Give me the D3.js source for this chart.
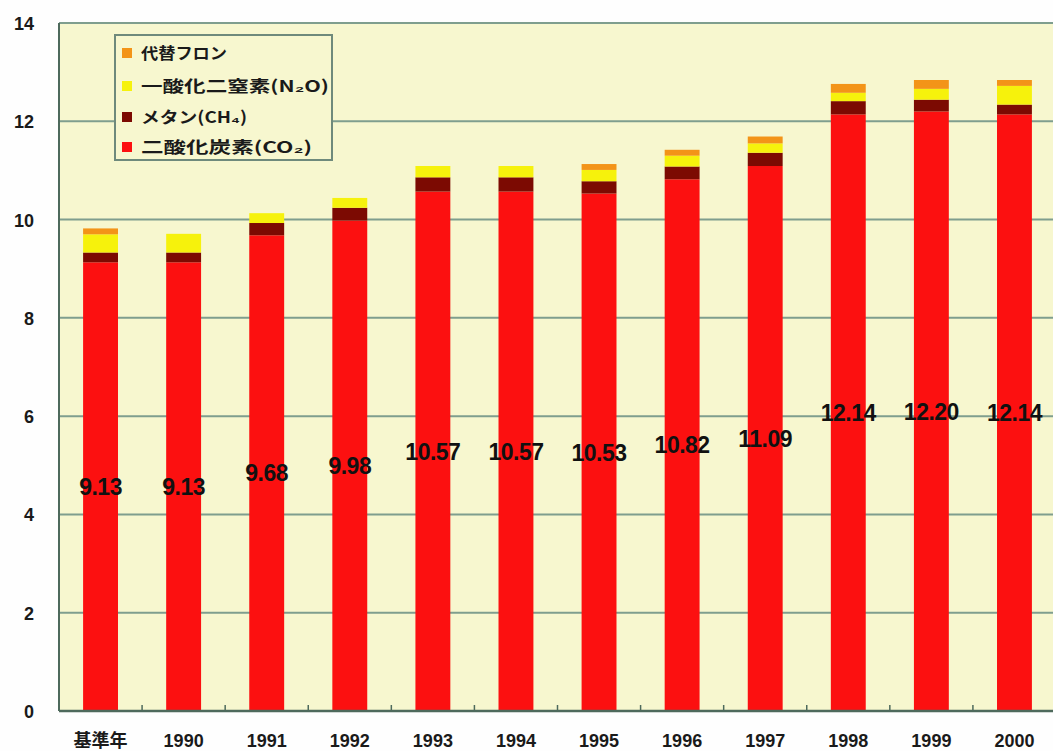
<!DOCTYPE html>
<html>
<head>
<meta charset="utf-8">
<script src="https://cdn.jsdelivr.net/npm/d3@7"></script>
<style>
  html, body { margin: 0; padding: 0; background: #fefefe; }
  svg { display: block; }
</style>
</head>
<body>
<svg id="chart" width="1053" height="751"></svg>
<script>
const categories = ["基準年", "1990", "1991", "1992", "1993", "1994", "1995", "1996", "1997", "1998", "1999", "2000"];
const co2 = [9.13, 9.13, 9.68, 9.98, 10.57, 10.57, 10.53, 10.82, 11.09, 12.14, 12.20, 12.14];
const ch4 = [0.20, 0.20, 0.25, 0.26, 0.29, 0.29, 0.25, 0.26, 0.27, 0.27, 0.24, 0.20];
const n2o = [0.37, 0.38, 0.20, 0.20, 0.23, 0.23, 0.23, 0.22, 0.19, 0.17, 0.22, 0.38];
const hfc = [0.12, 0.00, 0.00, 0.00, 0.00, 0.00, 0.12, 0.12, 0.14, 0.18, 0.18, 0.12];
const seriesNames = ["二酸化炭素", "メタン", "一酸化二窒素", "代替フロン"];
const legendLabels = ["代替フロン", "一酸化二窒素(N₂O)", "メタン(CH₄)", "二酸化炭素(CO₂)"];
const yTicks = [0, 2, 4, 6, 8, 10, 12, 14];

const colors = {"二酸化炭素": "#fc1010", "メタン": "#7c0a02", "一酸化二窒素": "#f6f20c", "代替フロン": "#f39418"};
const legendColors = ["#f39418", "#f6f20c", "#7c0a02", "#fc1010"];

(function () {
const svg = d3.select("#chart");
const mLeft = 59, mRight = 1056, mTop = 23, mBottom = 711;

const x = d3.scaleBand().domain(categories).range([mLeft, mRight]).paddingInner(0.58).paddingOuter(0.29);
const y = d3.scaleLinear().domain([0, 14]).range([mBottom, mTop]);

const rows = categories.map((c, i) => ({cat: c, "二酸化炭素": co2[i], "メタン": ch4[i], "一酸化二窒素": n2o[i], "代替フロン": hfc[i]}));
const stack = d3.stack().keys(seriesNames)(rows);

svg.append("rect").attr("x", mLeft).attr("y", mTop).attr("width", mRight - mLeft).attr("height", mBottom - mTop).attr("fill", "#f7f7cf");

svg.append("g").selectAll("line").data(yTicks.filter(d => d > 0)).join("line")
  .attr("x1", mLeft).attr("x2", mRight)
  .attr("y1", d => y(d)).attr("y2", d => y(d))
  .attr("stroke", "#7f9e8e").attr("stroke-width", 2);

svg.append("g").selectAll("g").data(stack).join("g")
  .attr("fill", d => colors[d.key])
  .selectAll("rect").data(d => d).join("rect")
  .attr("x", d => x(d.data.cat))
  .attr("width", x.bandwidth())
  .attr("y", d => y(d[1]))
  .attr("height", d => Math.max(0, y(d[0]) - y(d[1])));

const step = x.step();
svg.append("g").selectAll("line").data(categories.slice(1)).join("line")
  .attr("x1", d => x(d) - (step - x.bandwidth()) / 2).attr("x2", d => x(d) - (step - x.bandwidth()) / 2)
  .attr("y1", mBottom).attr("y2", mBottom - 6)
  .attr("stroke", "#4e6a5c").attr("stroke-width", 1.5);

svg.append("line").attr("x1", mLeft).attr("x2", mLeft).attr("y1", mTop).attr("y2", mBottom).attr("stroke", "#4e6a5c").attr("stroke-width", 2);
svg.append("line").attr("x1", mLeft).attr("x2", mRight).attr("y1", mBottom).attr("y2", mBottom).attr("stroke", "#4e6a5c").attr("stroke-width", 2.5);

const yAxis = d3.axisLeft(y).tickValues(yTicks).tickSize(0).tickPadding(0).tickFormat(d3.format("d"));
const yg = svg.append("g").attr("transform", `translate(${mLeft - 25},0)`).call(yAxis);
yg.select(".domain").remove();
yg.selectAll("text").attr("font-family", "Liberation Sans, Arial, sans-serif").attr("font-weight", "bold")
  .attr("font-size", 18).attr("fill", "#1a1a1a").attr("dy", "0.36em");

const xAxis = d3.axisBottom(x).tickSize(0).tickPadding(0);
const xg = svg.append("g").attr("transform", `translate(0,${mBottom + 25})`).call(xAxis);
xg.select(".domain").remove();
xg.selectAll("text").attr("font-family", "Liberation Sans, 'Noto Sans CJK JP', sans-serif").attr("font-weight", "bold")
  .attr("font-size", 18).attr("fill", "#1a1a1a").attr("dy", "0.6em");

svg.append("g").selectAll("text").data(stack[0]).join("text")
  .attr("x", d => x(d.data.cat) + x.bandwidth() / 2)
  .attr("y", d => (y(d[0]) + y(d[1])) / 2)
  .attr("text-anchor", "middle").attr("dy", "0.36em")
  .attr("font-family", "Liberation Sans, Arial, sans-serif").attr("font-weight", "bold")
  .attr("font-size", 23).attr("letter-spacing", -0.5).attr("fill", "#111111")
  .text(d => d3.format(".2f")(d.data["二酸化炭素"]));

const lg = svg.append("g");
lg.append("rect").attr("x", 115).attr("y", 35).attr("width", 217).attr("height", 125)
  .attr("fill", "#f7f7cf").attr("stroke", "#6f8a7c").attr("stroke-width", 2);
const legendY = [53, 86, 117, 147];
const legendW = [86, 188, 106, 171];
legendLabels.forEach((lab, i) => {
  lg.append("rect").attr("x", 122).attr("y", legendY[i] - 5).attr("width", 10).attr("height", 10).attr("fill", legendColors[i]);
  lg.append("text").attr("x", 141).attr("y", legendY[i]).attr("dy", "0.36em")
    .attr("font-family", "'Noto Sans CJK JP', sans-serif").attr("font-weight", "bold").attr("font-size", 16)
    .attr("fill", "#1a1a1a").attr("textLength", legendW[i]).attr("lengthAdjust", "spacingAndGlyphs")
    .text(lab);
});
})();
</script>
</body>
</html>
